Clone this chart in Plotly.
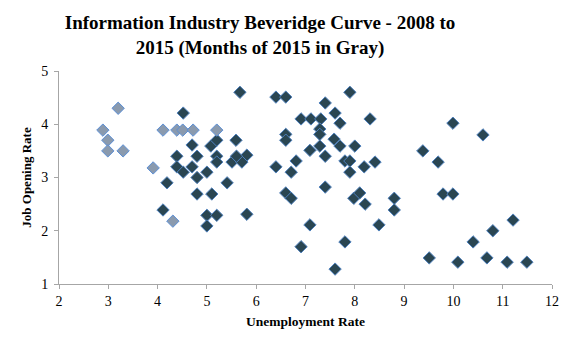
import plotly.graph_objects as go

# 2008-2014 months (dark)
dark_unemp = [4.52, 4.70, 5.08, 5.20, 5.59, 4.39, 4.80, 5.20, 5.20, 5.51, 4.39, 4.52, 4.70, 5.00, 4.80,
              4.19, 5.41, 4.80, 5.10, 4.11, 5.00, 5.20, 5.00, 5.81, 5.67, 6.40, 6.60, 7.90, 7.40, 7.60,
              7.70, 6.91, 7.11, 7.31, 8.31, 7.29, 7.29, 6.60, 6.60, 7.58, 7.70, 8.00, 7.29, 7.09, 7.40,
              5.81, 5.71, 6.81, 6.40, 6.71, 7.80, 7.90, 7.90, 8.19, 8.41, 7.40, 6.60, 6.71, 7.98, 8.10,
              8.21, 8.80, 8.80, 7.09, 8.49, 6.91, 7.80, 7.60, 9.99, 10.60, 9.38, 9.69, 9.79, 9.99, 11.21,
              10.80, 10.40, 9.51, 10.09, 10.68, 11.09, 11.49, 5.60]
dark_jobs = [4.21, 3.61, 3.59, 3.70, 3.70, 3.40, 3.40, 3.40, 3.29, 3.29, 3.20, 3.10, 3.20, 3.10, 3.00,
             2.90, 2.90, 2.69, 2.69, 2.39, 2.29, 2.29, 2.09, 2.31, 4.60, 4.51, 4.51, 4.60, 4.40, 4.21,
             4.02, 4.10, 4.10, 4.10, 4.10, 3.91, 3.81, 3.81, 3.70, 3.72, 3.59, 3.59, 3.59, 3.51, 3.40,
             3.42, 3.29, 3.31, 3.20, 3.10, 3.31, 3.31, 3.10, 3.20, 3.29, 2.82, 2.71, 2.61, 2.61, 2.71,
             2.50, 2.61, 2.39, 2.11, 2.11, 1.70, 1.79, 1.28, 4.02, 3.80, 3.50, 3.29, 2.69, 2.69, 2.20,
             2.00, 1.79, 1.49, 1.41, 1.49, 1.41, 1.41, 3.40]

# 2015 months (gray)
gray_unemp = [3.20, 2.89, 2.99, 2.99, 3.30, 3.91, 4.11, 4.39, 4.51, 4.72, 5.20, 4.31]
gray_jobs = [4.30, 3.89, 3.70, 3.50, 3.50, 3.18, 3.89, 3.89, 3.89, 3.89, 3.89, 2.18]

x_ticks = [2, 3, 4, 5, 6, 7, 8, 9, 10, 11, 12]
y_ticks = [1, 2, 3, 4, 5]

serif = "Liberation Serif"

fig = go.Figure()
fig.add_trace(go.Scatter(
    x=dark_unemp, y=dark_jobs, mode="markers",
    marker=dict(symbol="diamond", size=9.5, color="#2a4652",
                line=dict(color="#4f81bd", width=1)),
    showlegend=False, hoverinfo="x+y"))
fig.add_trace(go.Scatter(
    x=gray_unemp, y=gray_jobs, mode="markers",
    marker=dict(symbol="diamond", size=9.5, color="#8a9aae",
                line=dict(color="#5b8fd6", width=1)),
    showlegend=False, hoverinfo="x+y"))

fig.update_layout(
    width=578, height=340,
    margin=dict(l=59, r=26, t=71, b=56),
    paper_bgcolor="white", plot_bgcolor="white",
    title=dict(text="<b>Information Industry Beveridge Curve - 2008 to<br>2015 (Months of 2015 in Gray)</b>",
               x=260 / 578, xanchor="center", xref="container",
               y=1 - 29 / 340, yanchor="middle", yref="container",
               font=dict(family=serif, size=19, color="black")),
    font=dict(family=serif, size=14, color="black"),
)
fig.update_xaxes(range=[2, 12], tickvals=x_ticks, ticktext=[str(v) for v in x_ticks],
                 showgrid=False, zeroline=False, showline=True, linecolor="#a6a6a6", linewidth=1,
                 ticks="outside", ticklen=4, tickcolor="#a6a6a6",
                 title=dict(text="<b>Unemployment Rate</b>", font=dict(family=serif, size=13.5), standoff=8),
                 tickfont=dict(family=serif, size=14))
fig.update_yaxes(range=[1, 5], tickvals=y_ticks, ticktext=[str(v) for v in y_ticks],
                 showgrid=False, zeroline=False, showline=True, linecolor="#a6a6a6", linewidth=1,
                 ticks="outside", ticklen=4, tickcolor="#a6a6a6", ticklabelstandoff=3,
                 title=dict(text="<b>Job Opening Rate</b>", font=dict(family=serif, size=13), standoff=6),
                 tickfont=dict(family=serif, size=14))

fig.write_html("out.html")
